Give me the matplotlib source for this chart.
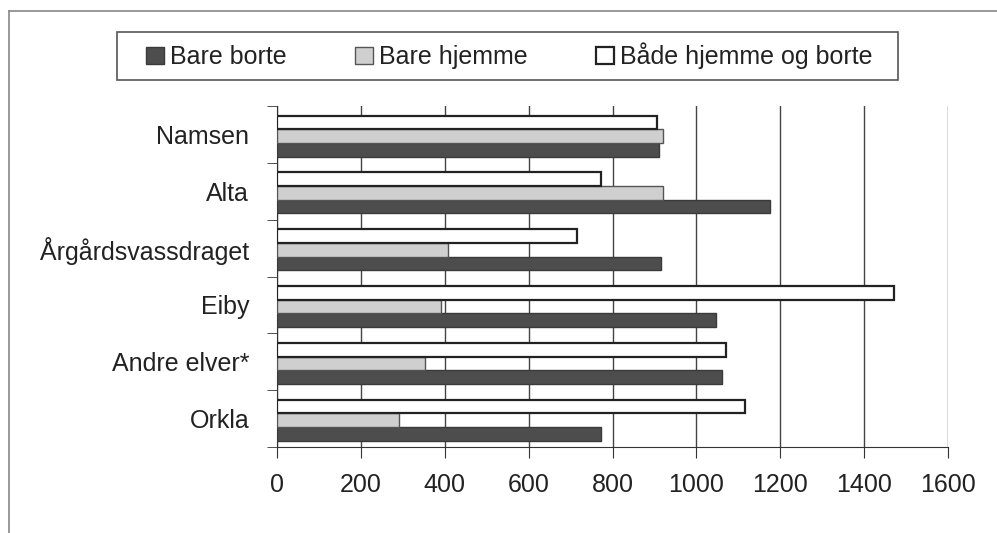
import matplotlib
matplotlib.use('Agg')
import matplotlib.pyplot as plt
import matplotlib.patches as mpatches
from matplotlib.lines import Line2D
import numpy as np

plt.rcParams['font.family'] = ['Liberation Sans', 'DejaVu Sans']

# data (top to bottom)
rivers = ['Namsen', 'Alta', 'Årgårdsvassdraget', 'Eiby', 'Andre elver*', 'Orkla']
bare_borte = [912, 1175, 916, 1046, 1062, 772]
bare_hjemme = [920, 920, 408, 391, 354, 292]
baade = [907, 773, 716, 1472, 1071, 1117]
xticks = [0, 200, 400, 600, 800, 1000, 1200, 1400, 1600]

fig = plt.figure(figsize=(9.97, 5.33), dpi=100)
ax = fig.add_axes([277/997, 1-447/533, (948-277)/997, (447-106)/533])

y = np.arange(len(rivers)) + 0.03
h = 0.24
ax.barh(y + h, bare_borte, height=h, color='#4d4d4d', edgecolor='#3a3a3a', linewidth=1, label='Bare borte', zorder=3)
ax.barh(y, bare_hjemme, height=h, color='#cfcfcf', edgecolor='#555555', linewidth=1, label='Bare hjemme', zorder=3)
ax.barh(y - h, baade, height=h, color='white', edgecolor='#222222', linewidth=1.6, label='Både hjemme og borte', zorder=3)

ax.set_ylim(len(rivers) - 0.5, -0.5)
ax.set_xlim(0, 1600)
ax.set_yticks(np.arange(len(rivers)))
ax.set_yticklabels(rivers, fontsize=18, color='#222222')
ax.set_yticks(np.arange(len(rivers) + 1) - 0.5, minor=True)
ax.tick_params(axis='y', which='major', length=0, pad=20)
ax.tick_params(axis='y', which='minor', length=7, color='#333333')
ax.set_xticks(xticks)
ax.set_xticklabels([str(v) for v in xticks], fontsize=18, color='#222222')
ax.tick_params(axis='x', length=8, color='#333333', pad=11)
ax.grid(axis='x', color='#444444', linewidth=1, zorder=0)
ax.spines['top'].set_visible(False)
ax.spines['right'].set_visible(False)
for s in ('left', 'bottom'):
    ax.spines[s].set_color('#333333')

# legend box drawn separately
fig.patches.append(mpatches.Rectangle((117/997, 1-80/533), (898-117)/997, 48/533,
                                      transform=fig.transFigure, fill=False,
                                      edgecolor='#555555', linewidth=1.2))
fig.legend(loc='center', bbox_to_anchor=(0.511, 1-56/533), ncol=3, frameon=False,
           fontsize=18, handlelength=0.7, handleheight=0.7, handletextpad=0.25,
           columnspacing=2.75, labelcolor='#222222')

# outer border
fig.add_artist(Line2D([9/997, 1], [1-11/533, 1-11/533], transform=fig.transFigure, color='#888888', linewidth=1.2))
fig.add_artist(Line2D([9/997, 9/997], [0, 1-11/533], transform=fig.transFigure, color='#888888', linewidth=1.2))

fig.savefig('out.png', dpi=100)
